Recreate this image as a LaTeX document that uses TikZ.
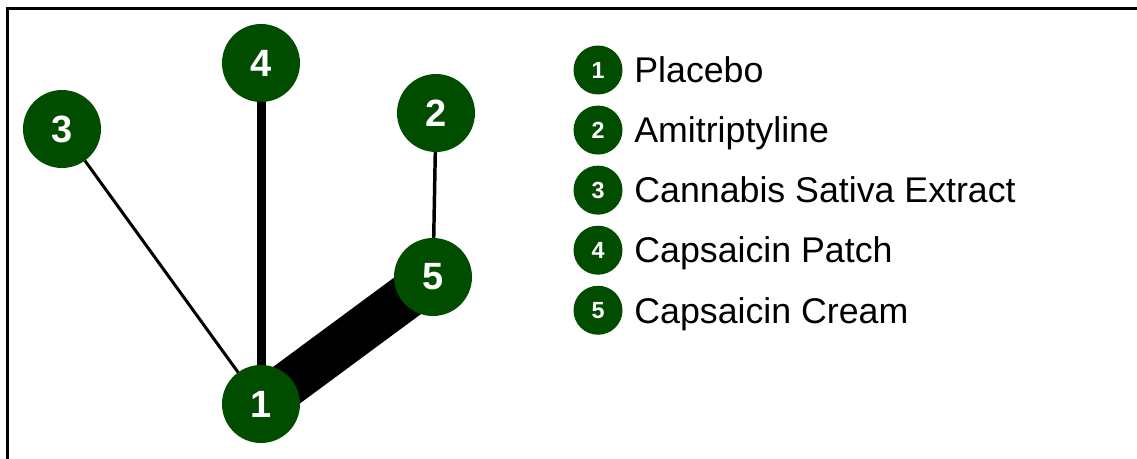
\documentclass[tikz,border=0pt]{standalone}
\usepackage{fontspec}
\setmainfont{Liberation Sans}
\usepackage{xcolor}
\usetikzlibrary{positioning,backgrounds}
\definecolor{netgreen}{RGB}{0,77,0}

\begin{document}
\begin{tikzpicture}[x=0.75pt,y=-0.75pt,
  tr/.style={circle,fill=netgreen,text=white,minimum size=58.5pt,inner sep=0pt,font=\fontsize{28.5}{28.5}\selectfont\bfseries},
  lg/.style={circle,fill=netgreen,text=white,minimum size=36.75pt,inner sep=0pt,font=\fontsize{17.5}{17.5}\selectfont\bfseries},
  lbl/.style={inner sep=0pt,text height=19.2pt,text depth=0pt,font=\fontsize{26.8}{26.8}\selectfont},
  lnk/.style={draw=black,line cap=butt}]
\useasboundingbox (0,0) rectangle (1137,459);
\draw[line width=2.25pt] (7,459) -- (7,9) -- (1137,9);
% treatments
\node[tr] (t1) at (261,404) {1};
\node[tr] (t2) at (436,113) {2};
\node[tr] (t3) at (62,129) {3};
\node[tr] (t4) at (261,63) {4};
\node[tr] (t5) at (433,277) {5};
% comparisons, behind the circles
\begin{scope}[on background layer]
\draw[lnk,line width=2.25pt] (t1.center) -- (t3.center);
\draw[lnk,line width=6.75pt] (t1.center) -- (t4.center);
\draw[lnk,line width=34pt] (t1.center) -- (t5.center);
\draw[lnk,line width=2.6pt] (t2.center) -- (t5.center);
\end{scope}
% legend
\node[lg] (l1) at (598,70) {1};
\node[lg,below=7.9pt of l1] (l2) {2};
\node[lg,below=7.9pt of l2] (l3) {3};
\node[lg,below=7.9pt of l3] (l4) {4};
\node[lg,below=7.9pt of l4] (l5) {5};
\node[lbl,right=8.5pt of l1] (n1) {Placebo};
\node[lbl,right=8.5pt of l2] (n2) {Amitriptyline};
\node[lbl,right=8.5pt of l3] (n3) {Cannabis Sativa Extract};
\node[lbl,right=8.5pt of l4] (n4) {Capsaicin Patch};
\node[lbl,right=8.5pt of l5] (n5) {Capsaicin Cream};
\end{tikzpicture}
\end{document}
